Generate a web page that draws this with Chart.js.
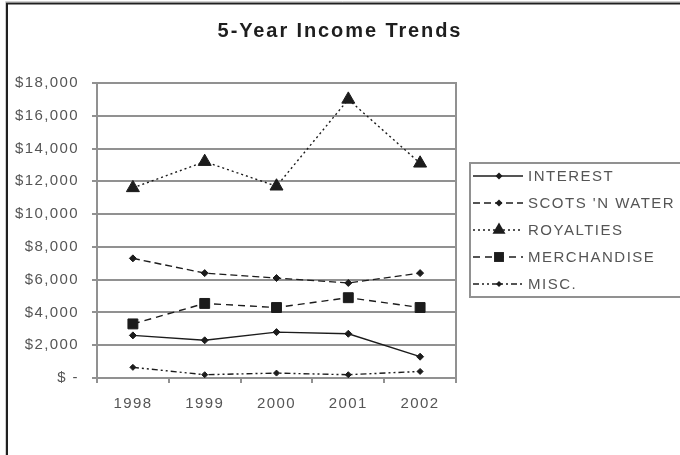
<!DOCTYPE html>
<html>
<head>
<meta charset="utf-8">
<script src="https://cdn.jsdelivr.net/npm/chart.js@4/dist/chart.umd.min.js"></script>
<style>
  html, body { margin: 0; padding: 0; background: #fff; }
  #wrap { position: relative; width: 680px; height: 455px; }
  canvas { display: block; }
</style>
</head>
<body>
<div id="wrap"><canvas id="c" width="680" height="455"></canvas></div>
<script>
// Five years of income, by source (dollars)
const years = ['1998', '1999', '2000', '2001', '2002'];
const interest = [2600, 2300, 2800, 2700, 1300];
const scotsNWater = [7300, 6400, 6100, 5800, 6400];
const royalties = [11600, 13200, 11700, 17000, 13100];
const merchandise = [3300, 4550, 4300, 4900, 4300];
const misc = [650, 200, 300, 200, 400];
const seriesNames = ['INTEREST', "SCOTS 'N WATER", 'ROYALTIES', 'MERCHANDISE', 'MISC.'];
const titleText = '5-Year Income Trends';

const INK = '#1c1c1c';
const GRID = '#919191';
const TEXT = '#555555';
const FONT = '"Liberation Sans", Arial, sans-serif';

function lineSet(label, data, dash, pointStyle, radius) {
  return {
    label, data,
    borderColor: INK, backgroundColor: INK,
    borderWidth: 1.4, borderDash: dash,
    pointStyle, pointRadius: radius, pointHoverRadius: radius,
    pointBackgroundColor: INK, pointBorderColor: INK, pointBorderWidth: 1,
    tension: 0, fill: false
  };
}

const datasets = [
  lineSet(seriesNames[0], interest, [], 'rectRot', 3.5),
  lineSet(seriesNames[1], scotsNWater, [7, 4], 'rectRot', 3.5),
  lineSet(seriesNames[2], royalties, [2, 3], 'triangle', 7.5),
  lineSet(seriesNames[3], merchandise, [7, 5], 'rect', 7),
  lineSet(seriesNames[4], misc, [6, 3, 2, 3, 2, 3], 'rectRot', 3)
];

function drawMarker(ctx, style, r, x, y) {
  ctx.beginPath();
  if (style === 'triangle') {
    ctx.moveTo(x, y - r);
    ctx.lineTo(x + r * Math.sin(Math.PI * 2 / 3), y - r * Math.cos(Math.PI * 2 / 3));
    ctx.lineTo(x + r * Math.sin(Math.PI * 4 / 3), y - r * Math.cos(Math.PI * 4 / 3));
    ctx.closePath();
  } else if (style === 'rect') {
    const s = r * Math.SQRT1_2;
    ctx.rect(x - s, y - s, 2 * s, 2 * s);
  } else {
    ctx.moveTo(x, y - r); ctx.lineTo(x + r, y); ctx.lineTo(x, y + r); ctx.lineTo(x - r, y);
    ctx.closePath();
  }
  ctx.fill();
}

const decor = {
  id: 'decor',
  beforeDraw(chart) {
    chart.ctx.letterSpacing = '1.4px';
  },
  beforeDatasetsDraw(chart) {
    const { ctx, chartArea: a } = chart;
    ctx.save();
    ctx.strokeStyle = GRID;
    ctx.lineWidth = 2;
    ctx.beginPath();
    ctx.moveTo(a.right, a.top - 1);
    ctx.lineTo(a.right, a.bottom + 5);
    ctx.stroke();
    ctx.restore();
  },
  afterDraw(chart) {
    const ctx = chart.ctx;
    ctx.save();
    // outer frame (left and top edges)
    ctx.strokeStyle = '#d0d0d0'; ctx.lineWidth = 1;
    ctx.beginPath(); ctx.moveTo(5.5, 455); ctx.lineTo(5.5, 1.5); ctx.lineTo(680, 1.5); ctx.stroke();
    ctx.strokeStyle = '#202020'; ctx.lineWidth = 2;
    ctx.beginPath(); ctx.moveTo(7, 455); ctx.lineTo(7, 3.5); ctx.lineTo(680, 3.5); ctx.stroke();

    // title
    ctx.letterSpacing = '1.9px';
    ctx.fillStyle = '#1e1e1e';
    ctx.font = 'bold 20px ' + FONT;
    ctx.textAlign = 'center'; ctx.textBaseline = 'middle';
    ctx.fillText(titleText, 340, 31);

    // legend box
    ctx.letterSpacing = '1.5px';
    ctx.strokeStyle = GRID; ctx.lineWidth = 2;
    ctx.strokeRect(470, 163, 230, 134);
    ctx.font = '15px ' + FONT;
    ctx.textAlign = 'left';
    datasets.forEach((ds, i) => {
      const y = 176 + i * 27;
      ctx.strokeStyle = INK; ctx.lineWidth = 1.4;
      ctx.setLineDash(ds.borderDash);
      ctx.beginPath(); ctx.moveTo(473, y); ctx.lineTo(523, y); ctx.stroke();
      ctx.setLineDash([]);
      ctx.fillStyle = INK;
      drawMarker(ctx, ds.pointStyle, ds.pointRadius, 499, y);
      ctx.fillStyle = TEXT;
      ctx.fillText(ds.label, 528, y + 1);
    });
    ctx.restore();
    ctx.letterSpacing = '0px';
  }
};

new Chart(document.getElementById('c'), {
  type: 'line',
  data: { labels: years, datasets },
  plugins: [decor],
  options: {
    responsive: false,
    animation: false,
    events: [],
    layout: { padding: { top: 83, right: 224, bottom: 0, left: 0 } },
    plugins: { legend: { display: false }, title: { display: false }, tooltip: { enabled: false } },
    scales: {
      x: {
        offset: true,
        afterFit(scale) { scale.height = 77; },
        grid: { drawOnChartArea: false, drawTicks: true, tickLength: 5, offset: true, color: GRID, lineWidth: 2 },
        border: { display: true, color: GRID, width: 2 },
        ticks: { color: TEXT, padding: 12, font: { family: FONT, size: 15 } }
      },
      y: {
        min: 0, max: 18000,
        afterFit(scale) { scale.width = 97; },
        grid: { color: GRID, lineWidth: 2, drawTicks: true, tickLength: 5 },
        border: { display: true, color: GRID, width: 2 },
        ticks: {
          stepSize: 2000,
          color: TEXT, padding: 13,
          font: { family: FONT, size: 15 },
          callback(v) { return v === 0 ? '$ -' : '$' + v.toLocaleString('en-US'); }
        }
      }
    }
  }
});
</script>
</body>
</html>
